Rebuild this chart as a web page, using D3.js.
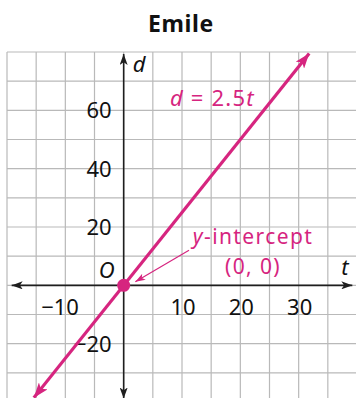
<!DOCTYPE html>
<html>
<head>
<meta charset="utf-8">
<script src="https://cdn.jsdelivr.net/npm/d3@7/dist/d3.min.js"></script>
<style>
  html, body { margin: 0; padding: 0; background: #fff; }
  svg { display: block; }
  text { font-family: "Noto Sans", "Open Sans", sans-serif; }
</style>
</head>
<body>
<svg id="chart" width="356" height="398"></svg>
<script>
// Emile: distance d against time t, d = 2.5t
const title = "Emile";
const rate = 2.5;
const lineT = [-15.4, 31.8];                 // t range of the drawn line (arrow tips)
const xTicks = [-10, 10, 20, 30];
const yTicks = [60, 40, 20, -20];
const xGrid = d3.range(-20, 40, 5);
const yGrid = d3.range(80, -40, -10);
const interceptPoint = [0, 0];
const calloutFrom = [11.2, 12];              // start of the callout pointer (t, d)
const calloutTo = [2, 1.2];                  // end of the callout pointer (t, d)
const equationLabel = ["d", " = 2.5", "t"];
const interceptLabel = ["y", "-intercept", "(0, 0)"];

const pink = "#d6257f";
const gridColor = "#b9b9b9";
const axisColor = "#1e1e1e";

const svg = d3.select("#chart");
const x = d3.scaleLinear().domain([-20, 40]).range([7, 357]);
const y = d3.scaleLinear().domain([80, -40]).range([52, 402]);

// title
svg.append("text").attr("x", 181).attr("y", 32)
  .attr("text-anchor", "middle").attr("font-size", 23).attr("font-weight", 700)
  .attr("letter-spacing", 0.6).attr("fill", "#111").text(title);

// markers
const defs = svg.append("defs");
function marker(id, color, len, wid) {
  defs.append("marker").attr("id", id)
    .attr("viewBox", `0 0 ${len} ${wid}`).attr("refX", len).attr("refY", wid / 2)
    .attr("markerWidth", len).attr("markerHeight", wid)
    .attr("markerUnits", "userSpaceOnUse").attr("orient", "auto-start-reverse")
    .append("path").attr("d", `M0,0 L${len},${wid / 2} L0,${wid} L${len * 0.25},${wid / 2} Z`)
    .attr("fill", color);
}
marker("axArrow", axisColor, 11, 8);
marker("pkArrow", pink, 15, 11);
marker("pkSmall", pink, 10, 7);

// grid
const grid = svg.append("g").attr("stroke", gridColor).attr("stroke-width", 1.2);
grid.selectAll("line.v").data(xGrid).join("line").attr("class", "v")
  .attr("x1", d => x(d)).attr("x2", d => x(d))
  .attr("y1", y(80)).attr("y2", 398);
grid.selectAll("line.h").data(yGrid).join("line").attr("class", "h")
  .attr("x1", x(-20)).attr("x2", 356)
  .attr("y1", d => y(d)).attr("y2", d => y(d));

// axes
svg.append("line").attr("x1", x(-19.2)).attr("x2", x(39.2))
  .attr("y1", y(0)).attr("y2", y(0))
  .attr("stroke", axisColor).attr("stroke-width", 1.6)
  .attr("marker-start", "url(#axArrow)").attr("marker-end", "url(#axArrow)");
svg.append("line").attr("x1", x(0)).attr("x2", x(0))
  .attr("y1", y(-38.8)).attr("y2", y(79.3))
  .attr("stroke", axisColor).attr("stroke-width", 1.6)
  .attr("marker-start", "url(#axArrow)").attr("marker-end", "url(#axArrow)");

// tick labels
const fs = 22;
svg.selectAll("text.ylab").data(yTicks).join("text").attr("class", "ylab")
  .attr("x", x(0) - 12).attr("y", d => y(d)).attr("dy", "0.36em")
  .attr("text-anchor", "end").attr("font-size", fs).attr("fill", "#111")
  .text(d => d < 0 ? "\u2212" + Math.abs(d) : d);

const probe = svg.append("text").attr("font-size", fs).text("\u2212");
const minusW = probe.node().getComputedTextLength();
probe.remove();
svg.selectAll("text.xlab").data(xTicks).join("text").attr("class", "xlab")
  .attr("x", d => x(d) + 1 - (d < 0 ? minusW / 2 : 0)).attr("y", y(0) + 30)
  .attr("text-anchor", "middle").attr("font-size", fs).attr("fill", "#111")
  .text(d => d < 0 ? "\u2212" + Math.abs(d) : d);

// axis names and origin
svg.append("text").attr("x", x(0) + 9).attr("y", y(79.5) + 19)
  .attr("font-size", fs).attr("font-style", "italic").attr("fill", "#111").text("d");
svg.append("text").attr("x", x(37.3)).attr("y", y(0) - 10)
  .attr("font-size", fs).attr("font-style", "italic").attr("fill", "#111").text("t");
svg.append("text").attr("x", x(0) - 25).attr("y", y(0) - 7)
  .attr("font-size", fs).attr("font-style", "italic").attr("fill", "#111").text("O");

// the line d = 2.5t
svg.append("line")
  .attr("x1", x(lineT[0])).attr("y1", y(rate * lineT[0]))
  .attr("x2", x(lineT[1])).attr("y2", y(rate * lineT[1]))
  .attr("stroke", pink).attr("stroke-width", 3.2)
  .attr("marker-start", "url(#pkArrow)").attr("marker-end", "url(#pkArrow)");

// equation label
const eq = svg.append("text").attr("x", 170).attr("y", 106)
  .attr("font-size", fs).attr("letter-spacing", 1.2).attr("fill", pink);
eq.append("tspan").attr("font-style", "italic").text(equationLabel[0]);
eq.append("tspan").text(equationLabel[1]);
eq.append("tspan").attr("font-style", "italic").text(equationLabel[2]);

// y-intercept callout
svg.append("line")
  .attr("x1", x(calloutFrom[0])).attr("y1", y(calloutFrom[1]))
  .attr("x2", x(calloutTo[0])).attr("y2", y(calloutTo[1]))
  .attr("stroke", pink).attr("stroke-width", 1.2)
  .attr("marker-end", "url(#pkSmall)");
const ifs = 21;
const il = svg.append("text").attr("x", 253).attr("y", 244)
  .attr("text-anchor", "middle").attr("font-size", ifs).attr("letter-spacing", 1.4)
  .attr("fill", pink);
il.append("tspan").attr("font-style", "italic").text(interceptLabel[0]);
il.append("tspan").text(interceptLabel[1]);
svg.append("text").attr("x", 253).attr("y", 274)
  .attr("text-anchor", "middle").attr("font-size", ifs).attr("letter-spacing", 1.4)
  .attr("fill", pink).text(interceptLabel[2]);

// intercept point
svg.append("circle").attr("cx", x(interceptPoint[0])).attr("cy", y(interceptPoint[1]))
  .attr("r", 6.5).attr("fill", pink);
</script>
</body>
</html>
